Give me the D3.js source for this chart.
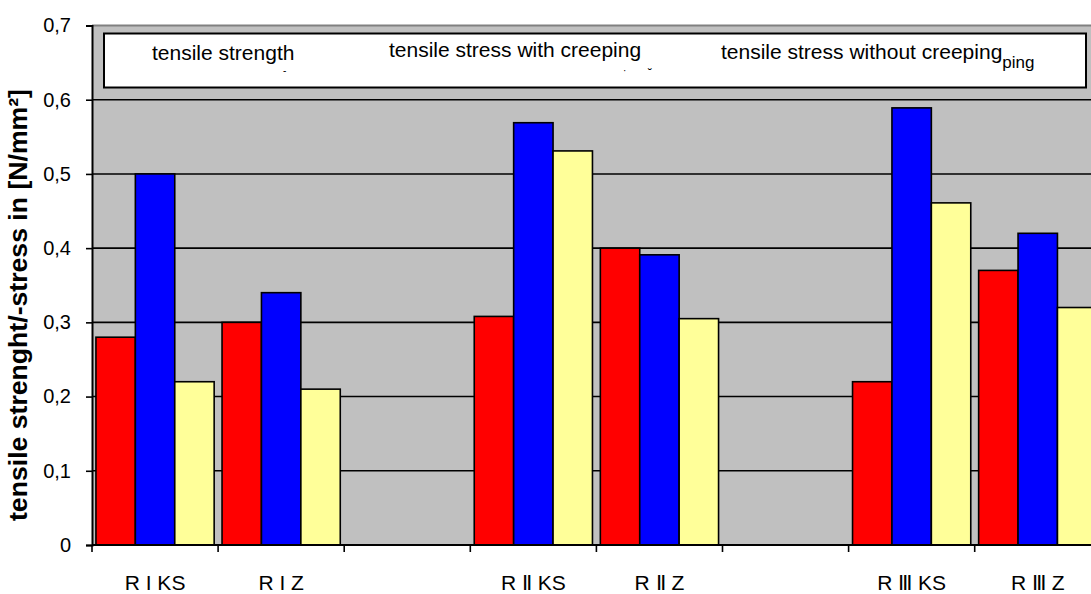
<!DOCTYPE html>
<html>
<head>
<meta charset="utf-8">
<script src="https://cdn.jsdelivr.net/npm/d3@7"></script>
<style>
  html, body { margin: 0; padding: 0; background: #fff; }
  svg { display: block; }
  text { font-family: "Liberation Sans", Arial, sans-serif; }
</style>
</head>
<body>
<svg id="chart" width="1091" height="594"></svg>
<script>
// ---- data ----
const categories = ["R I KS", "R I Z", "", "R Ⅱ KS", "R Ⅱ Z", "", "R Ⅲ KS", "R Ⅲ Z"];
const seriesNames = ["tensile strength", "tensile stress with creeping", "tensile stress without creeping"];
const tensileStrength   = [0.28, 0.30, null, 0.308, 0.40, null, 0.22, 0.37];
const stressWithCreep   = [0.50, 0.34, null, 0.569, 0.391, null, 0.589, 0.42];
const stressWithoutCreep= [0.22, 0.21, null, 0.531, 0.305, null, 0.461, 0.32];
const yTicks = [0, 0.1, 0.2, 0.3, 0.4, 0.5, 0.6, 0.7];
const yTitle = "tensile strenght/-stress in [N/mm²]";
const colors = ["#FF0000", "#0000FF", "#FFFF99"];

const series = [tensileStrength, stressWithCreep, stressWithoutCreep];

const W = 1091, H = 594;
const plotLeft = 92, plotTop = 25.5, plotBottom = 545;
const catW = 126.1;
const svg = d3.select("#chart");

const x = d3.scaleBand().domain(d3.range(categories.length))
  .range([plotLeft, plotLeft + catW * categories.length]).padding(0);
const xs = d3.scaleBand().domain(d3.range(series.length))
  .range([0, x.bandwidth()]).paddingInner(0).paddingOuter(0.1);
const y = d3.scaleLinear().domain([0, 0.7]).range([plotBottom, plotTop]);

// plot area
svg.append("rect").attr("x", plotLeft).attr("y", plotTop).attr("width", W - plotLeft).attr("height", plotBottom - plotTop)
  .attr("fill", "#C0C0C0");
svg.append("line").attr("x1", plotLeft).attr("x2", W).attr("y1", plotTop).attr("y2", plotTop)
  .attr("stroke", "#808080").attr("stroke-width", 2);

// gridlines
svg.append("g").selectAll("line").data(yTicks.filter(t => t > 0 && t < 0.7)).join("line")
  .attr("x1", plotLeft).attr("x2", W).attr("y1", d => y(d)).attr("y2", d => y(d))
  .attr("stroke", "#000").attr("stroke-width", 1.6);

// bars
const groups = svg.append("g").selectAll("g").data(series).join("g")
  .attr("fill", (d, i) => colors[i]);
groups.each(function(vals, si) {
  d3.select(this).selectAll("rect").data(vals.map((v, ci) => ({v, ci})).filter(d => d.v != null)).join("rect")
    .attr("x", d => x(d.ci) + xs(si))
    .attr("width", xs.bandwidth())
    .attr("y", d => y(d.v))
    .attr("height", d => y(0) - y(d.v))
    .attr("stroke", "#000").attr("stroke-width", 1.6);
});

// y axis
const yAxis = d3.axisLeft(y).tickValues(yTicks).tickSize(6).tickPadding(15)
  .tickFormat(d => d === 0 ? "0" : d3.format(".1f")(d).replace(".", ","));
const gy = svg.append("g").attr("transform", `translate(${plotLeft},0)`).call(yAxis);
gy.select(".domain").attr("stroke", "#000").attr("stroke-width", 2);
gy.selectAll(".tick line").attr("stroke", "#000").attr("stroke-width", 1.6);
gy.selectAll(".tick text").attr("font-size", 20).attr("fill", "#000")
  .attr("font-family", "Liberation Sans, Arial, sans-serif");

// x axis
const boundaries = d3.range(categories.length + 1).map(i => plotLeft + i * x.step());
svg.append("line").attr("x1", plotLeft).attr("x2", W).attr("y1", plotBottom).attr("y2", plotBottom)
  .attr("stroke", "#000").attr("stroke-width", 2);
svg.append("g").selectAll("line").data(boundaries).join("line")
  .attr("x1", d => d).attr("x2", d => d).attr("y1", plotBottom).attr("y2", plotBottom + 7)
  .attr("stroke", "#000").attr("stroke-width", 1.6);
svg.append("g").selectAll("text").data(categories).join("text")
  .attr("x", (d, i) => x(i) + x.bandwidth() / 2)
  .attr("y", 590)
  .attr("text-anchor", "middle").attr("font-size", 21).attr("fill", "#000")
  .text(d => d);

// y title
svg.append("text")
  .attr("transform", `translate(27,305) rotate(-90)`)
  .attr("text-anchor", "middle").attr("font-size", 25).attr("font-weight", "bold")
  .attr("textLength", 432).attr("lengthAdjust", "spacingAndGlyphs")
  .text(yTitle);

// legend
svg.append("rect").attr("x", 104).attr("y", 33.5).attr("width", 982).attr("height", 54)
  .attr("fill", "#fff").attr("stroke", "#000").attr("stroke-width", 2);
const lg = svg.append("g").attr("font-size", 21).attr("fill", "#000");
lg.append("text").attr("x", 152).attr("y", 59.5).text(seriesNames[0]);
lg.append("text").attr("x", 389).attr("y", 56.5).text(seriesNames[1]);
const t3 = lg.append("text").attr("x", 721).attr("y", 58.5);
t3.append("tspan").text(seriesNames[2]);
t3.append("tspan").attr("font-size", 17).attr("dy", 9).text("ping");
// small clipped-glyph artifacts visible in the legend
lg.append("text").attr("x", 283).attr("y", 74).attr("font-size", 10).text("-");
lg.append("text").attr("x", 623).attr("y", 74).attr("font-size", 10).text("·");
lg.append("text").attr("x", 648).attr("y", 78).attr("font-size", 12).text("˘");
</script>
</body>
</html>
